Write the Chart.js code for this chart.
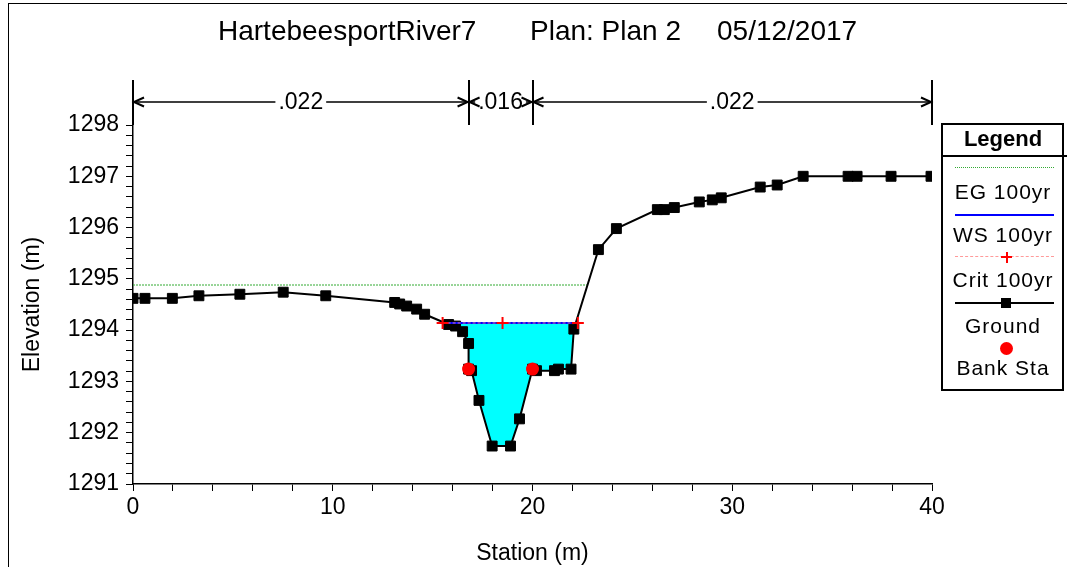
<!DOCTYPE html>
<html>
<head>
<meta charset="utf-8">
<script src="https://cdn.jsdelivr.net/npm/chart.js@4"></script>
<style>
  body { margin: 0; background: #fff; font-family: "Liberation Sans", Arial, sans-serif; }
  #wrap { position: relative; width: 1067px; height: 567px; overflow: hidden; }
  #frame { position: absolute; left: 8px; top: 3px; width: 1100px; height: 600px; border-left: 1px solid #000; border-top: 1px solid #000; }
  .t { position: absolute; top: 15px; font-size: 28px; line-height: 32px; color: #000; white-space: pre; }
  #legend { position: absolute; left: 941px; top: 123px; width: 119px; height: 264px; border: 2px solid #000; }
  #legHead { position: absolute; left: 941px; top: 155px; width: 126px; height: 0; border-top: 2px solid #000; }
  .lt { position: absolute; left: 943px; width: 120px; text-align: center; font-size: 21px; letter-spacing: 1px; line-height: 24px; color: #000; }
  .ls { position: absolute; left: 955px; width: 99px; height: 0; }
</style>
</head>
<body>
<div id="wrap">
  <canvas id="xsec" width="1067" height="567"></canvas>
  <div id="frame"></div>
  <span class="t" style="left:218px">HartebeesportRiver7</span>
  <span class="t" style="left:530px">Plan: Plan 2</span>
  <span class="t" style="left:717px">05/12/2017</span>

  <div id="legend"></div>
  <div id="legHead"></div>
  <div class="lt" style="top:127px;font-weight:bold;font-size:22px;letter-spacing:0">Legend</div>
  <div class="ls" style="top:167px;border-top:1px dotted #33aa33"></div>
  <div class="lt" style="top:180px">EG 100yr</div>
  <div class="ls" style="top:214px;border-top:2px solid #0000ff"></div>
  <div class="lt" style="top:223px">WS 100yr</div>
  <div class="ls" style="top:256px;border-top:1px dashed #ff9a9a"></div>
  <div style="position:absolute;left:1001px;top:256px;width:11px;height:2px;background:#f00"></div>
  <div style="position:absolute;left:1005.5px;top:251.5px;width:2px;height:11px;background:#f00"></div>
  <div class="lt" style="top:268px">Crit 100yr</div>
  <div class="ls" style="top:302px;border-top:2px solid #000"></div>
  <div style="position:absolute;left:1001px;top:298px;width:10px;height:10px;background:#000"></div>
  <div class="lt" style="top:314px">Ground</div>
  <div style="position:absolute;left:1000px;top:342px;width:13px;height:13px;border-radius:50%;background:#f00"></div>
  <div class="lt" style="top:356px">Bank Sta</div>
</div>
<script>
// Ground profile (station m, elevation m)
const groundX = [0, 0.6, 1.97, 3.3, 5.35, 7.52, 9.65, 13.1, 13.35, 13.7, 14.2, 14.6, 15.8, 16.15, 16.5,
  16.8, 16.8, 16.95, 17.32, 17.98, 18.9, 19.35, 20.0, 20.2, 21.1, 21.3, 21.93, 22.07, 23.3, 24.2,
  26.25, 26.6, 27.1, 28.35, 29.0, 29.45, 31.4, 32.25, 33.55, 35.8, 36.25, 37.95, 39.95];
const groundY = [1294.62, 1294.62, 1294.62, 1294.67, 1294.70, 1294.74, 1294.67, 1294.54, 1294.51, 1294.47, 1294.41, 1294.31, 1294.11, 1294.08, 1293.97,
  1293.74, 1293.24, 1293.21, 1292.63, 1291.74, 1291.74, 1292.27, 1293.24, 1293.21, 1293.21, 1293.24, 1293.24, 1294.02, 1295.57, 1295.98,
  1296.35, 1296.35, 1296.39, 1296.50, 1296.54, 1296.58, 1296.79, 1296.83, 1297.0, 1297.0, 1297.0, 1297.0, 1297.0];

// 100yr profile
const egX = [0, 22.75];
const egY = [1294.88, 1294.88];
const wsX = [15.5, 22.27];
const wsY = [1294.14, 1294.14];
const critX = [15.5, 18.5, 22.27];
const critY = [1294.14, 1294.14, 1294.14];

// bank stations
const bankX = [16.8, 20.0];
const bankY = [1293.24, 1293.24];

// Manning's n zones
const nStations = [0, 16.8, 20.0, 40];
const nValues = ['.022', '.016', '.022'];

const xTicksMajor = 10;
const yTicksMajor = 1;

const pts = (xs, ys) => xs.map((x, i) => ({ x: x, y: ys[i] }));
const FONT = '"Liberation Sans", Arial, sans-serif';

const nPlugin = {
  id: 'nValues',
  afterDraw(chart) {
    const { ctx, chartArea } = chart;
    const xs = chart.scales.x;
    const top = chartArea.top - 45;
    const ya = chartArea.top - 23;
    ctx.save();
    ctx.strokeStyle = '#000';
    ctx.fillStyle = '#000';
    ctx.lineWidth = 2;
    nStations.forEach(s => {
      const px = Math.round(xs.getPixelForValue(s));
      ctx.beginPath();
      ctx.moveTo(px, top);
      ctx.lineTo(px, chartArea.top);
      ctx.stroke();
    });
    ctx.font = '23px ' + FONT;
    ctx.textAlign = 'center';
    ctx.textBaseline = 'middle';
    for (let i = 0; i < nValues.length; i++) {
      const x0 = xs.getPixelForValue(nStations[i]);
      const x1 = xs.getPixelForValue(nStations[i + 1]);
      const mid = (x0 + x1) / 2;
      const w = ctx.measureText(nValues[i]).width + 6;
      ctx.lineWidth = 1.5;
      ctx.beginPath();
      ctx.moveTo(x0, ya); ctx.lineTo(Math.max(x0, mid - w / 2), ya);
      ctx.moveTo(Math.min(x1, mid + w / 2), ya); ctx.lineTo(x1, ya);
      ctx.stroke();
      ctx.lineWidth = 2;
      ctx.beginPath();
      ctx.moveTo(x0 + 11, ya - 4.5); ctx.lineTo(x0 + 1, ya); ctx.lineTo(x0 + 11, ya + 4.5);
      ctx.moveTo(x1 - 11, ya - 4.5); ctx.lineTo(x1 - 1, ya); ctx.lineTo(x1 - 11, ya + 4.5);
      ctx.stroke();
      ctx.fillText(nValues[i], mid, ya + 1);
    }
    ctx.restore();
  }
};

const isMajor = (v, step) => Math.abs(v / step - Math.round(v / step)) < 1e-6;

new Chart(document.getElementById('xsec'), {
  type: 'line',
  data: {
    datasets: [
      {
        label: 'Bank Sta', data: pts(bankX, bankY), showLine: false,
        pointStyle: 'circle', pointRadius: 6.5, pointBackgroundColor: '#ff0000', pointBorderColor: '#ff0000', pointBorderWidth: 0
      },
      {
        label: 'Crit 100yr', data: pts(critX, critY), borderColor: 'rgba(255,140,140,0.9)', borderWidth: 1, borderDash: [3, 2],
        pointStyle: 'cross', pointRadius: 6, pointBorderColor: '#ff0000', pointBorderWidth: 2
      },
      {
        label: 'WS 100yr', data: pts(wsX, wsY), borderColor: '#0000ff', borderWidth: 2, pointRadius: 0,
        fill: 3, backgroundColor: '#00ffff'
      },
      {
        label: 'Ground', data: pts(groundX, groundY), borderColor: '#000', borderWidth: 2,
        pointStyle: 'rect', pointRadius: 7, pointBackgroundColor: '#000', pointBorderColor: '#000', pointBorderWidth: 1
      },
      {
        label: 'EG 100yr', data: pts(egX, egY), borderColor: '#33aa33', borderWidth: 1, borderDash: [2, 1], pointRadius: 0
      }
    ]
  },
  options: {
    responsive: false,
    animation: false,
    events: [],
    layout: { padding: { left: 0, top: 125, right: 135, bottom: 0 } },
    elements: { line: { tension: 0 } },
    plugins: {
      legend: { display: false },
      tooltip: { enabled: false },
      filler: { drawTime: 'beforeDatasetsDraw' }
    },
    scales: {
      x: {
        type: 'linear', min: 0, max: 40,
        afterFit: s => { s.height = 83; },
        grid: { drawOnChartArea: false, drawTicks: true, tickLength: 7, color: '#000' },
        border: { color: '#000', width: 1.5 },
        ticks: {
          stepSize: 2, autoSkip: false, maxRotation: 0, padding: 3, color: '#000',
          font: { family: FONT, size: 23 },
          callback: v => isMajor(v, xTicksMajor) ? String(v) : ''
        },
        title: { display: true, text: 'Station (m)', color: '#000', font: { family: FONT, size: 23 }, padding: { top: 0, bottom: 0 } }
      },
      y: {
        type: 'linear', min: 1291, max: 1298,
        afterFit: s => { s.width = 133; },
        grid: { drawOnChartArea: false, drawTicks: true, tickLength: 7, color: '#000' },
        border: { color: '#000', width: 1.5 },
        ticks: {
          stepSize: 0.2, autoSkip: false, padding: 7, color: '#000',
          font: { family: FONT, size: 23 },
          callback: v => isMajor(v, yTicksMajor) ? String(Math.round(v)) : ''
        },
        title: { display: true, text: 'Elevation (m)', color: '#000', font: { family: FONT, size: 23 }, padding: { top: 19, bottom: 0 } }
      }
    }
  },
  plugins: [nPlugin]
});
</script>
</body>
</html>
